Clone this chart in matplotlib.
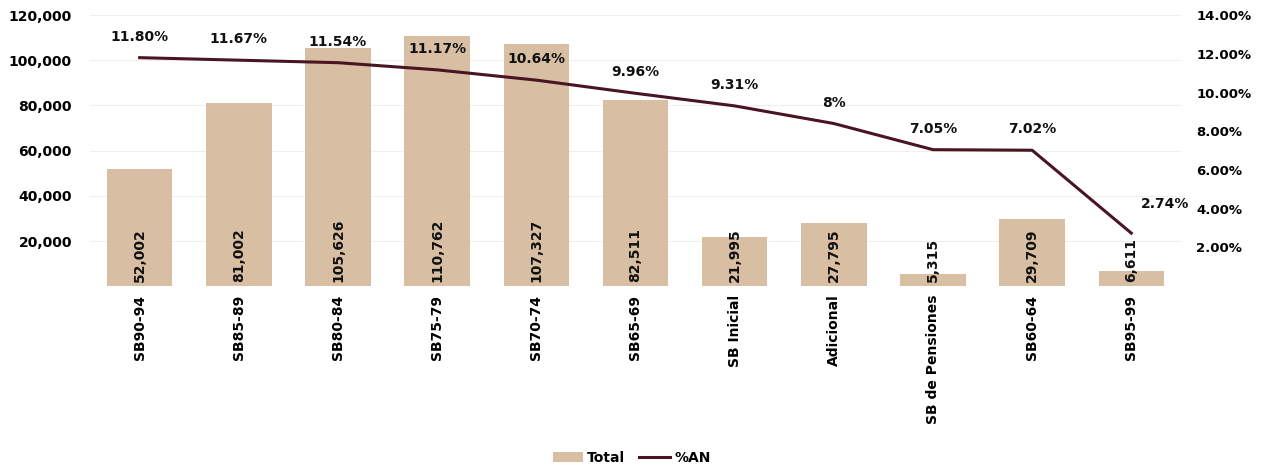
import numpy as np
import matplotlib
matplotlib.use("Agg")
import matplotlib.pyplot as plt
from matplotlib.ticker import FuncFormatter, FixedLocator

categorias = ['SB90-94', 'SB85-89', 'SB80-84', 'SB75-79', 'SB70-74', 'SB65-69',
              'SB Inicial', 'Adicional', 'SB de Pensiones', 'SB60-64', 'SB95-99']
total = [52002, 81002, 105626, 110762, 107327, 82511, 21995, 27795, 5315, 29709, 6611]
pct_an = [11.80, 11.67, 11.54, 11.17, 10.64, 9.96, 9.31, 8.4, 7.05, 7.02, 2.74]
pct_etiquetas = ['11.80%', '11.67%', '11.54%', '11.17%', '10.64%', '9.96%',
                 '9.31%', '8%', '7.05%', '7.02%', '2.74%']

color_barra = '#d8bea2'
color_linea = '#4a1522'

plt.rcParams['font.family'] = 'DejaVu Sans'
plt.rcParams['font.weight'] = 'bold'

fig = plt.figure(figsize=(12.63, 4.70), dpi=100)
ax = fig.add_axes([0.0713, 0.391, 0.8637, 0.577])
ax2 = ax.twinx()

x = np.arange(len(categorias))
ax.bar(x, total, 0.66, color=color_barra, label='Total', zorder=2)
for xi, v in zip(x, total):
    ax.text(xi, 2000, f'{v:,}', rotation=90, ha='center', va='bottom',
            fontsize=10, fontweight='bold', color='#111111', zorder=3)

ax.set_xlim(-0.5, len(categorias) - 0.5)
ax.set_ylim(0, 120000)
ax.yaxis.set_major_locator(FixedLocator([20000, 40000, 60000, 80000, 100000, 120000]))
ax.yaxis.set_major_formatter(FuncFormatter(lambda v, p: f'{int(v):,}'))
ax.grid(axis='y', color='#f2efeb', linewidth=0.8, zorder=0)
ax.set_xticks(x)
ax.set_xticklabels(categorias, rotation=90, fontsize=10, fontweight='bold')
ax.tick_params(axis='y', length=0, labelsize=10, pad=13)
ax.tick_params(axis='x', length=0, labelsize=10, pad=6)
for s in ax.spines.values():
    s.set_visible(False)

ax2.plot(x, pct_an, color=color_linea, linewidth=2.2, label='%AN', zorder=4)
for xi, v, t in zip(x, pct_an, pct_etiquetas):
    ultimo = xi == len(categorias) - 1
    ax2.annotate(t, (xi, v), xytext=(24 if ultimo else 0, 16 if ultimo else 10),
                 textcoords='offset points', ha='center', va='bottom',
                 fontsize=10, fontweight='bold', color='#111111')
ax2.set_ylim(0, 14)
ax2.yaxis.set_major_locator(FixedLocator([2, 4, 6, 8, 10, 12, 14]))
ax2.yaxis.set_major_formatter(FuncFormatter(lambda v, p: f'{v:.2f}%'))
ax2.tick_params(axis='y', length=0, labelsize=9.5, pad=11)
for s in ax2.spines.values():
    s.set_visible(False)

h1, l1 = ax.get_legend_handles_labels()
h2, l2 = ax2.get_legend_handles_labels()
fig.legend(h1 + h2, l1 + l2, loc='lower center', bbox_to_anchor=(0.5, -0.015),
           ncol=2, frameon=False, fontsize=10, handlelength=2.2, columnspacing=1.0,
           handletextpad=0.3)

fig.savefig('out.png', dpi=100)
